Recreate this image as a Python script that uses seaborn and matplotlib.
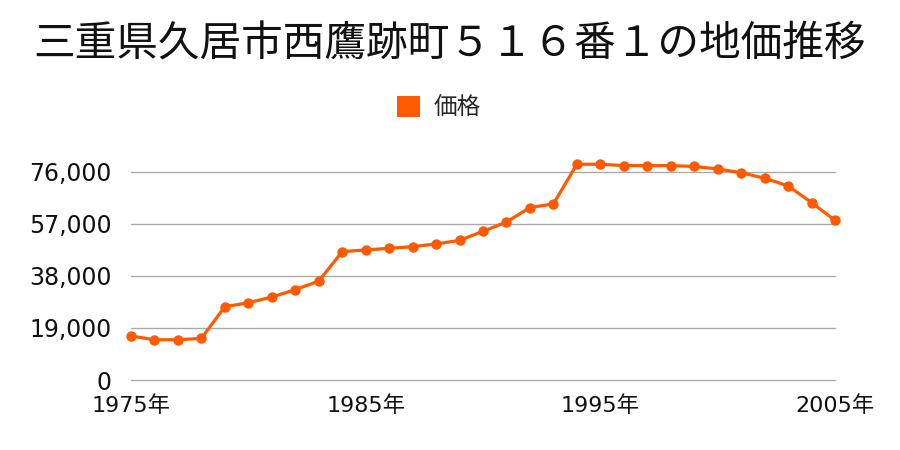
import matplotlib
matplotlib.use("Agg")
import matplotlib.pyplot as plt
from matplotlib.patches import Patch
from matplotlib.ticker import FuncFormatter
import seaborn as sns
import pandas as pd

title = "三重県久居市西鷹跡町５１６番１の地価推移"
series_name = "価格"
years = list(range(1975, 2006))
prices = [16100, 14700, 14700, 15200, 26800, 28200, 30300, 33000, 36100, 46900,
          47500, 48100, 48700, 49700, 51000, 54300, 57700, 63000, 64300, 78800,
          78800, 78300, 78300, 78300, 78000, 77100, 75700, 73700, 70900, 64800,
          58300]
y_ticks = [0, 19000, 38000, 57000, 76000]
x_ticks = [1975, 1985, 1995, 2005]
x_tick_labels = ["1975年", "1985年", "1995年", "2005年"]

sns.set_theme(style="white")
plt.rcParams['font.family'] = ['Noto Sans CJK JP', 'DejaVu Sans']
tick_family = ['DejaVu Sans', 'Noto Sans CJK JP']

color = "#ff5a00"
df = pd.DataFrame({"year": years, "price": prices})

fig = plt.figure(figsize=(9, 4.5), dpi=100)
ax = fig.add_axes([131/900, 1 - 380/450, (835-131)/900, (380-150)/450])

sns.lineplot(data=df, x="year", y="price", ax=ax, color=color, linewidth=2.3,
             marker="o", markersize=7.5, markeredgewidth=0, clip_on=False, zorder=3)

ax.set_xlim(1975, 2005)
ax.set_ylim(0, 84000)
ax.set_yticks(y_ticks)
ax.yaxis.set_major_formatter(FuncFormatter(lambda v, p: f"{int(v):,}"))
ax.set_xticks(x_ticks)
ax.set_xticklabels(x_tick_labels)
ax.grid(axis="y", color="#aaaaaa", linewidth=1)
ax.grid(axis="x", visible=False)
for gl in ax.yaxis.get_gridlines():
    gl.set_clip_on(False)
for s in ax.spines.values():
    s.set_visible(False)
ax.tick_params(axis="y", length=0, pad=14, labelsize=17, labelcolor="#111111")
ax.tick_params(axis="x", length=0, pad=11, labelsize=16, labelcolor="#111111")
for lab in ax.get_yticklabels() + ax.get_xticklabels():
    lab.set_family(tick_family)
ax.set_xlabel("")
ax.set_ylabel("")

fig.text(0.5, 1 - 45/450, title, ha="center", va="center", fontsize=30, color="#111111")
handle = Patch(facecolor=color, edgecolor="none")
fig.legend(handles=[handle], labels=[series_name], loc="center",
           bbox_to_anchor=(439/900, 1 - 108/450), frameon=False, fontsize=17,
           handlelength=0.95, handleheight=0.95, handletextpad=0.6)

fig.savefig("out.png", dpi=100)
